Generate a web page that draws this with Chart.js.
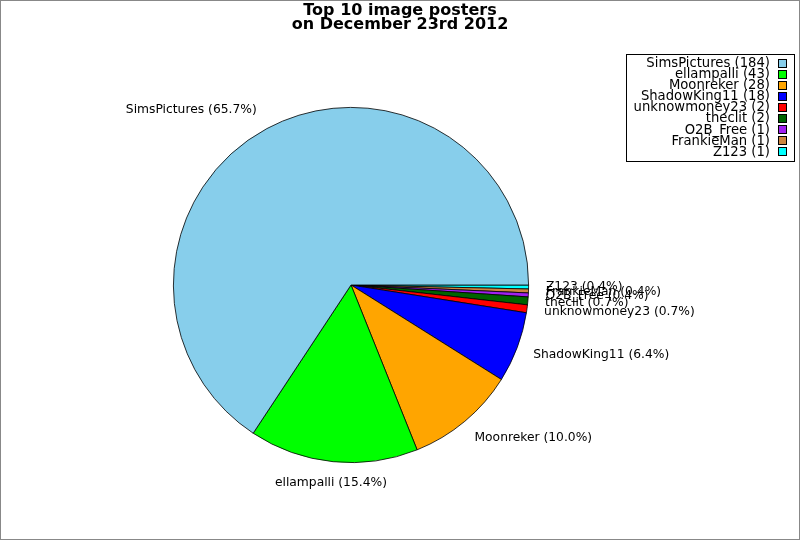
<!DOCTYPE html>
<html>
<head>
<meta charset="utf-8">
<script src="https://cdn.jsdelivr.net/npm/chart.js@4/dist/chart.umd.min.js"></script>
<style>
  html, body { margin: 0; padding: 0; background: #fff; }
  #wrap { width: 800px; height: 540px; position: relative; }
</style>
</head>
<body>
<div id="wrap"><canvas id="chart1" width="800" height="540"></canvas></div>
<script>
var names = ["SimsPictures", "ellampalli", "Moonreker", "ShadowKing11", "unknowmoney23", "theclit", "O2B_Free", "FrankieMan", "Z123"];
var counts = [184, 43, 28, 18, 2, 2, 1, 1, 1];
var colors = ["#87ceeb", "#00ff00", "#ffa500", "#0000ff", "#ff0000", "#006400", "#a020f0", "#cd853f", "#00ffff"];
var titleLines = ["Top 10 image posters", "on December 23rd 2012"];

var FONT = '"DejaVu Sans", sans-serif';
var total = counts.reduce(function (a, b) { return a + b; }, 0);

// pie goes counter-clockwise in the original, so feed chart.js the reversed order
var revNames = names.slice().reverse();
var revCounts = counts.slice().reverse();
var revColors = colors.slice().reverse();

var extras = {
    id: 'extras',
    afterDraw: function (chart) {
        var c = chart.ctx;
        c.save();

        // frame
        c.strokeStyle = '#888';
        c.lineWidth = 1;
        c.strokeRect(0.5, 0.5, 799, 539);

        // title
        c.fillStyle = '#000';
        c.font = 'bold 16px ' + FONT;
        c.textAlign = 'center';
        c.textBaseline = 'middle';
        c.fillText(titleLines[0], 400, 11);
        c.fillText(titleLines[1], 400, 24.5);

        // slice labels
        var meta = chart.getDatasetMeta(0);
        c.font = '12.3px ' + FONT;
        meta.data.forEach(function (arc, i) {
            var mid = (arc.startAngle + arc.endAngle) / 2;
            var r = arc.outerRadius * 1.12;
            var x = arc.x + Math.cos(mid) * r;
            var y = arc.y + Math.sin(mid) * r;
            var cs = Math.cos(mid);
            if (Math.abs(cs) < 0.2) c.textAlign = 'center';
            else if (cs > 0) { c.textAlign = 'left'; x -= 4; }
            else c.textAlign = 'right';
            var pct = (revCounts[i] / total * 100).toFixed(1);
            c.fillText(revNames[i] + ' (' + pct + '%)', x, y);
        });

        // legend
        c.strokeStyle = '#000';
        c.strokeRect(626.5, 54.5, 168, 107);
        c.font = '13.2px ' + FONT;
        c.textAlign = 'right';
        for (var i = 0; i < names.length; i++) {
            var ly = 63.5 + i * 11.1;
            c.fillStyle = '#000';
            c.fillText(names[i] + ' (' + counts[i] + ')', 770, ly);
            c.fillStyle = colors[i];
            c.fillRect(778.5, Math.round(ly) - 4.5, 8, 8);
            c.strokeRect(778.5, Math.round(ly) - 4.5, 8, 8);
        }
        c.restore();
    }
};

var chart1 = new Chart(document.getElementById('chart1'), {
    type: 'pie',
    data: {
        labels: revNames,
        datasets: [{
            data: revCounts,
            backgroundColor: revColors,
            borderColor: '#000',
            borderWidth: 0.8
        }]
    },
    options: {
        responsive: false,
        animation: false,
        devicePixelRatio: 1,
        rotation: 90,
        layout: { padding: { left: 173, right: 271, top: 107, bottom: 77 } },
        plugins: {
            legend: { display: false },
            title: { display: false },
            tooltip: { enabled: false }
        }
    },
    plugins: [extras]
});
</script>
</body>
</html>
